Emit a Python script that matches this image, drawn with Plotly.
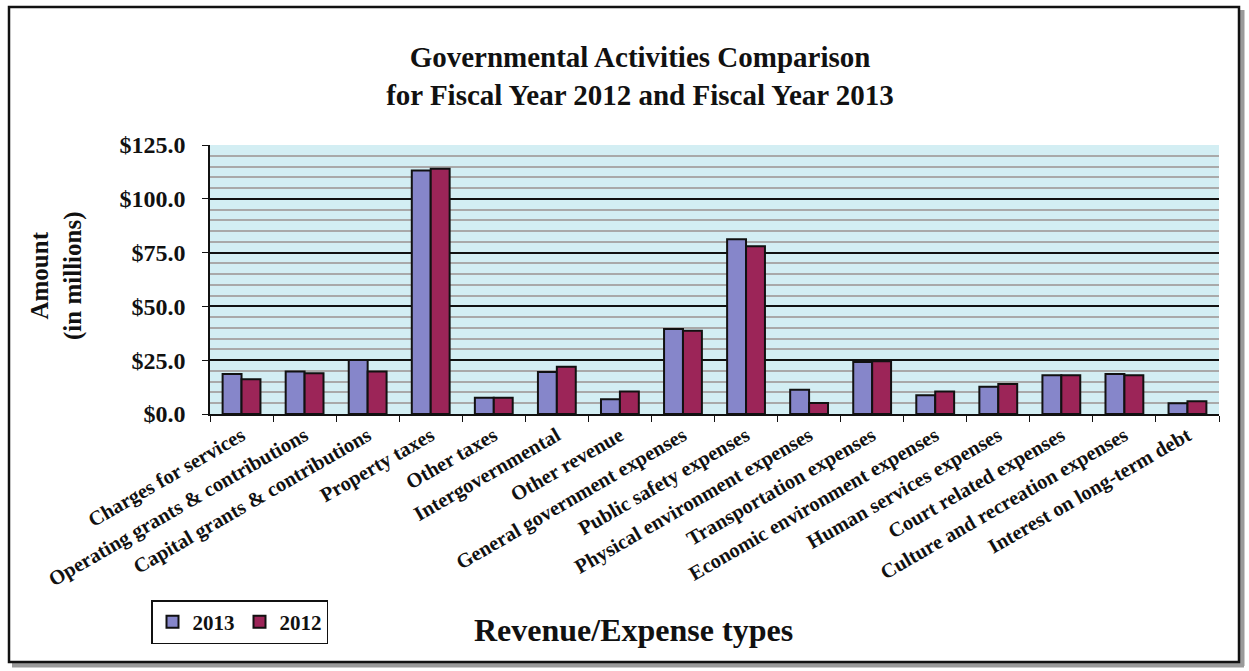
import plotly.graph_objects as go

categories = [
    "Charges for services", "Operating grants & contributions",
    "Capital grants & contributions", "Property taxes", "Other taxes",
    "Intergovernmental", "Other revenue", "General government expenses",
    "Public safety expenses", "Physical environment expenses",
    "Transportation expenses", "Economic environment expenses",
    "Human services expenses", "Court related expenses",
    "Culture and recreation expenses", "Interest on long-term debt",
]
fy2013 = [18.6, 19.8, 25.1, 113.1, 7.6, 19.5, 6.8, 39.5, 81.2, 11.3, 24.2, 8.7, 12.7, 18.0, 18.6, 5.0]
fy2012 = [16.1, 18.9, 19.8, 114.0, 7.6, 22.0, 10.5, 38.7, 77.9, 5.1, 24.5, 10.5, 13.9, 18.0, 18.0, 5.9]
ytick_vals = [0, 25, 50, 75, 100, 125]
ytick_text = ["$0.0", "$25.0", "$50.0", "$75.0", "$100.0", "$125.0"]

W, H = 1249, 671
L, R, T, B = 210, 30, 145, 257
PW, PH = W - L - R, H - T - B

def px(x):
    return (x - L) / PW

def py(y):
    return (H - B - y) / PH

FONT = "Liberation Serif"

fig = go.Figure()
fig.add_trace(go.Bar(name="2013", x=categories, y=fy2013,
                     marker=dict(color="#8686CA", line=dict(color="#111111", width=2))))
fig.add_trace(go.Bar(name="2012", x=categories, y=fy2012,
                     marker=dict(color="#9C2558", line=dict(color="#111111", width=2))))

fig.update_layout(
    width=W, height=H,
    margin=dict(l=L, r=R, t=T, b=B),
    paper_bgcolor="white", plot_bgcolor="#D3EEF3",
    barmode="group", bargap=0.4, bargroupgap=0.0,
    title=dict(text="Governmental Activities Comparison<br>for Fiscal Year 2012 and Fiscal Year 2013",
               x=640 / W, xanchor="center", y=1 - 67 / H, yanchor="middle", yref="container",
               font=dict(family=FONT, size=29, color="#111111", weight="bold")),
    legend=dict(orientation="h", x=px(151), y=py(600), xanchor="left", yanchor="top",
                bordercolor="#111111", borderwidth=1.5, bgcolor="white",
                font=dict(family=FONT, size=21, color="#111111", weight="bold"),
                itemwidth=30, tracegroupgap=0),
    font=dict(family=FONT, color="#111111"),
    showlegend=True,
)
fig.update_xaxes(
    type="category", tickangle=-30, tickson="boundaries", ticks="outside", ticklen=6,
    tickcolor="#111111", showline=True, linecolor="#111111", linewidth=1.5,
    tickfont=dict(family=FONT, size=20.5, color="#111111", weight="bold"),
    showgrid=False,
)
fig.update_yaxes(
    range=[0, 125], tickvals=ytick_vals, ticktext=ytick_text,
    ticks="outside", ticklen=6, tickcolor="#111111",
    showline=True, linecolor="#111111", linewidth=1.5,
    showgrid=True, gridcolor="#111111", gridwidth=1.5,
    minor=dict(dtick=5, showgrid=True, gridcolor="#A9A9A9", gridwidth=1.5, ticks="outside", ticklen=0),
    tickfont=dict(family=FONT, size=24, color="#111111", weight="bold"),
    ticklabelstandoff=12,
    zeroline=False,
)

fig.add_annotation(text="Amount<br>(in millions)", xref="paper", yref="paper",
                   x=px(56), y=py(276), textangle=-90, showarrow=False,
                   xanchor="center", yanchor="middle",
                   font=dict(family=FONT, size=25, color="#111111", weight="bold"))
fig.add_annotation(text="Revenue/Expense types", xref="paper", yref="paper",
                   x=px(633), y=py(630), showarrow=False, xanchor="center", yanchor="middle",
                   font=dict(family=FONT, size=32, color="#111111", weight="bold"))

# chart frame with shadow
fig.add_shape(type="line", xref="paper", yref="paper", x0=px(1242), x1=px(1242), y0=py(10), y1=py(666),
              line=dict(color="#9A9A9A", width=5))
fig.add_shape(type="line", xref="paper", yref="paper", x0=px(12), x1=px(1244), y0=py(665), y1=py(665),
              line=dict(color="#9A9A9A", width=5))
fig.add_shape(type="rect", xref="paper", yref="paper", x0=px(9), x1=px(1239), y0=py(7), y1=py(662),
              line=dict(color="#111111", width=2.5), layer="above")

fig.write_html("out.html")
